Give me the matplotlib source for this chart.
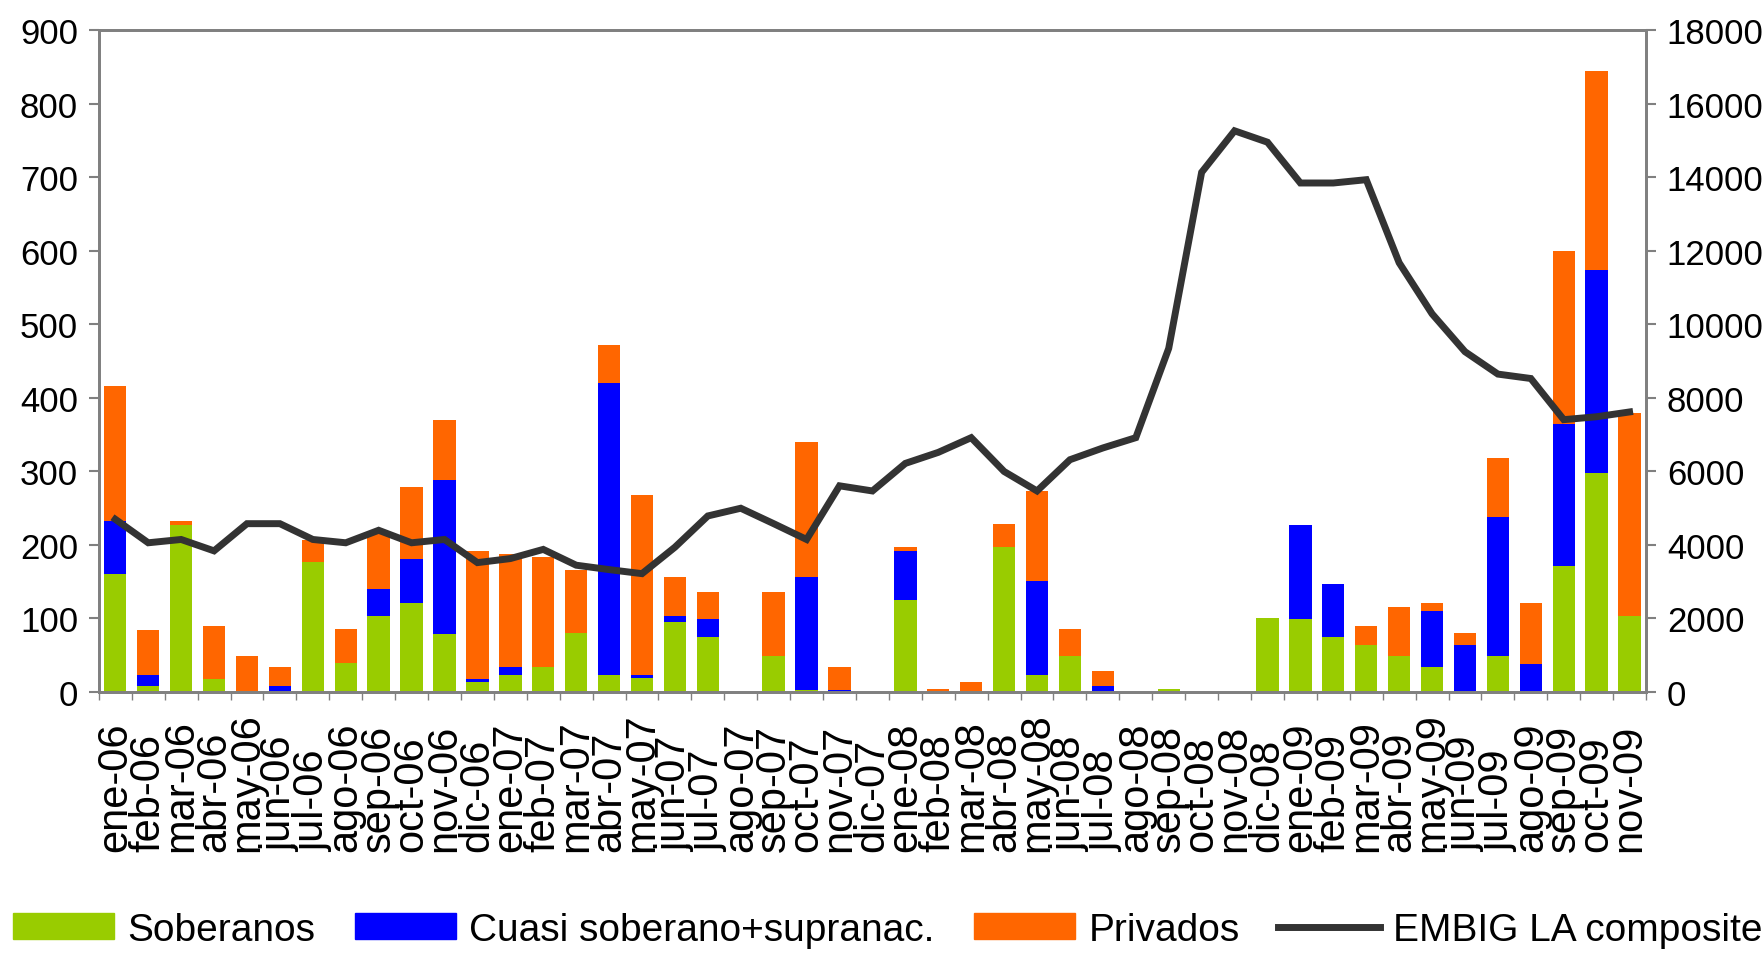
import numpy as np
import matplotlib.pyplot as plt
from matplotlib.lines import Line2D
from matplotlib.patches import Patch

plt.rcParams['font.family'] = ['Liberation Sans', 'DejaVu Sans']

months = ['ene-06', 'feb-06', 'mar-06', 'abr-06', 'may-06', 'jun-06', 'jul-06', 'ago-06',
          'sep-06', 'oct-06', 'nov-06', 'dic-06',
          'ene-07', 'feb-07', 'mar-07', 'abr-07', 'may-07', 'jun-07', 'jul-07', 'ago-07',
          'sep-07', 'oct-07', 'nov-07', 'dic-07',
          'ene-08', 'feb-08', 'mar-08', 'abr-08', 'may-08', 'jun-08', 'jul-08', 'ago-08',
          'sep-08', 'oct-08', 'nov-08', 'dic-08',
          'ene-09', 'feb-09', 'mar-09', 'abr-09', 'may-09', 'jun-09', 'jul-09', 'ago-09',
          'sep-09', 'oct-09', 'nov-09']

soberanos = [160, 8, 227, 18, 0, 0, 177, 39, 104, 121, 79, 13,
             23, 34, 80, 23, 19, 95, 75, 0, 49, 3, 0, 0,
             125, 0, 2, 197, 23, 49, 0, 0, 4, 0, 0, 100,
             99, 75, 64, 49, 34, 0, 49, 0, 171, 298, 104]
cuasi = [73, 15, 0, 0, 0, 8, 0, 0, 36, 60, 209, 5,
         11, 0, 0, 398, 4, 9, 24, 0, 0, 153, 3, 0,
         67, 0, 0, 0, 128, 0, 8, 0, 0, 0, 0, 0,
         128, 72, 0, 0, 76, 64, 189, 38, 193, 276, 0]
privados = [183, 61, 6, 72, 49, 26, 30, 47, 77, 98, 82, 174,
            154, 149, 86, 51, 245, 52, 37, 0, 87, 184, 31, 0,
            5, 4, 11, 31, 122, 37, 21, 0, 0, 0, 0, 0,
            0, 0, 26, 66, 11, 16, 81, 83, 236, 271, 276]
embig = [4700, 4060, 4150, 3840, 4580, 4580, 4150, 4060, 4400, 4060, 4150, 3520,
         3630, 3880, 3450, 3330, 3220, 3940, 4790, 5000, 4580, 4150, 5610, 5470,
         6220, 6520, 6920, 6000, 5470, 6320, 6640, 6920, 9350, 14140, 15270, 14960,
         13850, 13850, 13940, 11680, 10290, 9260, 8650, 8530, 7410, 7490, 7620]

GREEN = '#99CC00'
BLUE = '#0000FF'
ORANGE = '#FF6600'
LINE = '#333333'
GRAY = '#808080'

x = np.arange(len(months))
sob = np.array(soberanos)
cua = np.array(cuasi)
pri = np.array(privados)

fig = plt.figure(figsize=(17.65, 9.54), dpi=100)
ax = fig.add_axes([0.056, 0.2736, 0.8766, 0.6934])
ax2 = ax.twinx()

w = 0.68
ax.bar(x, sob, w, color=GREEN, linewidth=0)
ax.bar(x, cua, w, bottom=sob, color=BLUE, linewidth=0)
ax.bar(x, pri, w, bottom=sob + cua, color=ORANGE, linewidth=0)

ax2.plot(x, embig, color=LINE, lw=5, solid_joinstyle='miter', zorder=5)

ax.set_xlim(-0.5, len(months) - 0.5)
ax.set_ylim(0, 900)
ax.set_yticks(range(0, 901, 100))
ax2.set_ylim(0, 18000)
ax2.set_yticks(range(0, 18001, 2000))

ax.set_xticks(x)
ax.set_xticklabels([])
ax.set_xticks(np.arange(-0.5, len(months), 1), minor=True)
ax.tick_params(axis='x', which='major', length=0)
ax.tick_params(axis='x', which='minor', length=6, color=GRAY, width=1)
ax.tick_params(axis='y', labelsize=25, length=7, color=GRAY, width=1.5, pad=8)
ax2.tick_params(axis='y', labelsize=25, length=7, color=GRAY, width=1.5, pad=8)

for i, m in enumerate(months):
    ax.text(i, -0.24, m, transform=ax.get_xaxis_transform(), rotation=90,
            ha='center', va='bottom', fontsize=30)

for a in (ax, ax2):
    for s in a.spines.values():
        s.set_color(GRAY)
        s.set_linewidth(2)

handles = [Patch(color=GREEN), Patch(color=BLUE), Patch(color=ORANGE),
           Line2D([], [], color=LINE, lw=5)]
labels = ['Soberanos', 'Cuasi soberano+supranac.', 'Privados', 'EMBIG LA composite']
fig.legend(handles, labels, loc='center', bbox_to_anchor=(0.503, 0.024), ncol=4,
           frameon=False, fontsize=28, handlelength=2.6, handleheight=0.65,
           handletextpad=0.35, columnspacing=1.0, borderpad=0, borderaxespad=0)

fig.savefig('out.png', dpi=100)
